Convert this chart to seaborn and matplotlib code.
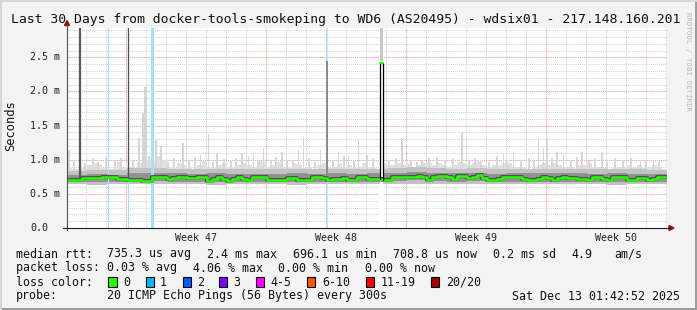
import numpy as np
import pandas as pd
import matplotlib
matplotlib.use("Agg")
import matplotlib.pyplot as plt
from matplotlib.patches import Rectangle, Polygon
from matplotlib.lines import Line2D
import seaborn as sns

# ---------------- data ----------------
STEP_DAYS = 0.25          # one value every 6 hours, 30 days
median_ms = [
    0.70, 0.70, 0.70, 0.73, 0.73, 0.73, 0.73, 0.74, 0.74, 0.74, 0.72, 0.72, 0.70, 0.70, 0.70, 0.69, 0.69, 0.74, 0.74, 0.74,
    0.72, 0.73, 0.75, 0.74, 0.73, 0.73, 0.74, 0.75, 0.69, 0.72, 0.74, 0.72, 0.69, 0.72, 0.74, 0.72, 0.70, 0.74, 0.75, 0.74,
    0.71, 0.70, 0.71, 0.71, 0.73, 0.73, 0.70, 0.70, 0.71, 0.74, 0.74, 0.73, 0.71, 0.72, 0.72, 0.73, 0.70, 0.71, 0.74, 0.74,
    0.72, 0.72, 0.72, 0.71, 0.70, 0.74, 0.74, 0.74, 0.74, 0.75, 0.76, 0.75, 0.70, 0.75, 0.76, 0.76, 0.74, 0.72, 0.76, 0.76,
    0.73, 0.74, 0.77, 0.73, 0.71, 0.71, 0.72, 0.74, 0.75, 0.75, 0.74, 0.72, 0.71, 0.71, 0.72, 0.74, 0.73, 0.70, 0.73, 0.74,
    0.73, 0.73, 0.72, 0.72, 0.71, 0.75, 0.75, 0.72, 0.71, 0.74, 0.74, 0.74, 0.70, 0.71, 0.73, 0.73, 0.71, 0.72, 0.74, 0.74,
]
smoke_hi_ms = [
    0.88, 0.86, 0.86, 0.90, 0.92, 0.95, 0.92, 0.88, 0.86, 0.86, 0.96, 0.90, 0.90, 0.85, 0.95, 1.05, 1.00, 0.98, 1.05, 1.00,
    0.90, 0.88, 0.95, 0.92, 0.88, 0.86, 0.92, 0.98, 0.90, 0.88, 0.93, 0.95, 0.90, 0.88, 0.92, 0.95, 0.92, 0.90, 0.98, 0.96,
    0.90, 0.92, 0.96, 0.90, 0.88, 0.95, 0.92, 0.88, 0.90, 0.86, 0.92, 0.95, 0.88, 0.90, 0.94, 0.90, 0.92, 0.88, 0.90, 0.95,
    0.90, 0.88, 0.85, 0.95, 0.92, 0.92, 0.95, 0.93, 0.95, 0.90, 0.92, 0.95, 0.95, 0.92, 0.95, 0.93, 0.90, 0.92, 0.96, 0.95,
    0.92, 0.95, 0.98, 0.92, 0.90, 0.92, 0.93, 0.95, 0.95, 0.90, 0.90, 0.88, 0.86, 0.90, 0.93, 0.95, 0.92, 0.95, 0.92, 0.90,
    0.90, 0.88, 0.92, 0.93, 0.95, 0.88, 0.90, 0.88, 0.86, 0.88, 0.90, 0.88, 0.92, 0.90, 0.92, 0.88, 0.90, 0.92, 0.90, 0.86,
]
# daily smoke percentiles
smoke_lo_daily = [0.64, 0.63, 0.64, 0.64, 0.65, 0.64, 0.64, 0.63, 0.64, 0.64, 0.64, 0.63, 0.64, 0.64, 0.64,
                  0.64, 0.65, 0.65, 0.65, 0.64, 0.65, 0.64, 0.64, 0.64, 0.64, 0.64, 0.64, 0.63, 0.64, 0.64]
smoke_q25_daily = [0.67, 0.68, 0.67, 0.68, 0.69, 0.68, 0.68, 0.67, 0.68, 0.68, 0.67, 0.68, 0.68, 0.68, 0.68,
                   0.68, 0.69, 0.70, 0.69, 0.68, 0.69, 0.68, 0.68, 0.68, 0.68, 0.68, 0.68, 0.67, 0.68, 0.68]
smoke_q75_daily = [0.78, 0.79, 0.78, 0.80, 0.81, 0.80, 0.79, 0.80, 0.79, 0.79, 0.79, 0.80, 0.79, 0.80, 0.79,
                   0.80, 0.81, 0.82, 0.81, 0.80, 0.81, 0.79, 0.80, 0.80, 0.80, 0.80, 0.79, 0.80, 0.79, 0.79]
smoke_q90_daily = [0.84, 0.85, 0.85, 0.88, 0.88, 0.87, 0.86, 0.87, 0.86, 0.86, 0.86, 0.87, 0.86, 0.87, 0.86,
                   0.87, 0.88, 0.89, 0.88, 0.87, 0.88, 0.86, 0.87, 0.87, 0.87, 0.86, 0.86, 0.86, 0.86, 0.85]
# isolated high pings (max of smoke)
spike_day = [0.1, 3.6, 3.8, 3.9, 3.97, 4.45, 4.7, 5.8, 6.67, 7.08, 7.5, 8.75, 9.08, 9.33, 9.83, 10.75, 11.0,
             11.58, 11.83, 12.67, 13.58, 14.08, 14.58, 15.0, 16.75, 17.75, 19.75, 20.67, 21.83, 22.33, 23.58,
             23.83, 24.0, 24.5, 24.83, 25.75, 26.75, 28.67, 29.33]
spike_ms = [1.15, 1.32, 1.69, 2.07, 2.07, 1.29, 1.20, 1.24, 1.07, 1.37, 1.10, 1.10, 1.05, 1.10, 1.17, 1.12, 1.00,
            1.15, 1.34, 1.15, 1.12, 1.07, 1.29, 1.07, 1.32, 0.98, 1.41, 1.00, 1.10, 1.10, 1.32,
            1.17, 1.32, 1.12, 1.07, 1.12, 1.12, 1.00, 0.98]
# smaller high pings above the smoke body
minor_spike_day = [0.35, 0.9, 1.3, 1.55, 1.95, 2.4, 2.7, 3.3, 4.1, 5.05, 5.35, 6.1, 6.4, 7.3, 7.85, 8.2, 8.45,
                   9.6, 10.2, 10.45, 11.3, 12.1, 12.4, 13.3, 13.85, 14.35, 15.3, 16.1, 16.45, 17.2, 17.5, 18.1,
                   18.5, 18.9, 19.3, 20.1, 20.4, 21.1, 21.5, 22.0, 22.7, 23.1, 23.35, 24.25, 25.2, 25.5, 26.1,
                   26.4, 27.0, 27.4, 27.8, 28.2, 28.95, 29.6]
minor_spike_ms = [0.98, 0.95, 1.02, 0.97, 1.04, 0.99, 1.03, 1.00, 1.05, 0.97, 1.02, 0.99, 1.04, 0.96, 1.01, 0.98,
                  1.03, 0.97, 1.00, 1.04, 0.98, 1.02, 0.97, 1.00, 1.05, 0.98, 1.01, 0.99, 1.03, 1.00, 0.97, 1.02,
                  1.04, 0.99, 1.01, 0.98, 1.03, 0.97, 1.05, 1.00, 0.99, 1.03, 0.98, 1.02, 0.99, 1.04, 0.98, 1.01,
                  0.97, 1.03, 0.99, 1.02, 0.98, 0.96]
loss_day = [2.05, 3.05, 4.25, 13.0]            # intervals with 1/20 packet loss
streak_day = [0.65, 3.05, 13.0]                 # dark smoke streaks reaching high
streak_top_ms = [2.95, 2.95, 2.45]
outlier_day = [15.67, 15.80]                    # one median sample at 2.42 ms
outlier_ms = 2.42

first_midnight = 0.928                          # days after Nov 13 01:42:52
week_start_day = [2.928, 9.928, 16.928, 23.928]
week_labels = ["Week 47", "Week 48", "Week 49", "Week 50"]
y_ticks_ms = [0.0, 0.5, 1.0, 1.5, 2.0, 2.5]
y_tick_labels = ["0.0", "0.5 m", "1.0 m", "1.5 m", "2.0 m", "2.5 m"]
loss_labels = ["0", "1", "2", "3", "4-5", "6-10", "11-19", "20/20"]
loss_colors = ["#26ff00", "#00b8ff", "#0059ff", "#7e00ff", "#ff00ff", "#ff5500", "#ff0000", "#a10000"]

# ---------------- figure ----------------
sns.set_theme(style="white")
plt.rcParams["font.family"] = ["DejaVu Sans Mono", "DejaVu Sans"]

W, H = 697, 310
fig = plt.figure(figsize=(W / 100, H / 100), dpi=100, facecolor="#f3f3f3")
def fx(x): return x / W
def fy(y): return 1 - y / H

ax = fig.add_axes([fx(67), fy(228), 600 / W, 200 / H])
ax.set_facecolor("white")
XMAX, YMAX = 30.0, 2.93
ax.set_xlim(0, XMAX)
ax.set_ylim(0, YMAX)
for s in ax.spines.values():
    s.set_visible(False)
ax.set_xticks([]); ax.set_yticks([])

# grid
minor_c, major_c = "#d4d4d4", "#f4a8a8"
dot = (0, (1, 1))
for k in range(30):
    d = first_midnight + k
    if d < XMAX:
        ax.axvline(d, color=minor_c, lw=0.75, ls=dot, zorder=0.5)
for v in np.arange(0.1, YMAX, 0.1):
    ax.axhline(v, color=minor_c, lw=0.75, ls=dot, zorder=0.5)
for d in week_start_day:
    ax.axvline(d, color=major_c, lw=0.75, ls=dot, zorder=0.6)
for v in y_ticks_ms[1:]:
    ax.axhline(v, color=major_c, lw=0.75, ls=dot, zorder=0.6)

# smoke
n = len(median_ms)
days = np.arange(n) * STEP_DAYS
xs = np.append(days, XMAX)
def stepped(a):
    a = np.asarray(a, dtype=float)
    return np.append(a, a[-1])
per_day = int(round(1 / STEP_DAYS))
lo = np.repeat(smoke_lo_daily, per_day)
q25 = np.repeat(smoke_q25_daily, per_day)
q75 = np.repeat(smoke_q75_daily, per_day)
q90 = np.repeat(smoke_q90_daily, per_day)
hi = np.asarray(smoke_hi_ms)
med = np.asarray(median_ms)

ax.fill_between(xs, stepped(lo), stepped(hi), step="post", color="#e0e0e0", lw=0, zorder=2)
ax.bar(minor_spike_day, np.asarray(minor_spike_ms) - 0.64, bottom=0.64, width=0.06, color="#d8d8d8", lw=0, zorder=2)
ax.bar(spike_day, np.asarray(spike_ms) - 0.64, bottom=0.64, width=0.075, color="#d6d6d6", lw=0, zorder=2)
ax.fill_between(xs, stepped(lo), stepped(q90), step="post", color="#c2c2c2", lw=0, zorder=2.1)
ax.fill_between(xs, stepped(q25), stepped(q75), step="post", color="#929292", lw=0, zorder=2.2)

# loss events (full height)
loss_w = [0.8, 0.8, 2.2, 1.1]
for d, w in zip(loss_day, loss_w):
    ax.axvline(d, color="#a6e2f6", lw=w, zorder=3)

# dark streaks
streak_c = ["#5a5a5a", "#505050", "#8a8a8a"]
streak_w = [1.6, 0.9, 1.4]
for d, top, c, w in zip(streak_day, streak_top_ms, streak_c, streak_w):
    base = med[min(int(d / STEP_DAYS), n - 1)]
    ax.plot([d, d], [base, top], color=c, lw=w, zorder=3.5, solid_capstyle="butt")

# median outlier sample
o0, o1 = outlier_day
ax.axvspan(o0, o1, ymin=0, ymax=outlier_ms / YMAX, color="white", lw=0, zorder=3.6)
ax.axvspan(o0, o1, ymin=(outlier_ms + 0.03) / YMAX, ymax=1, color="#c8c8c8", lw=0, zorder=3.6)

# median line
med_df = pd.DataFrame({"day": xs, "median": stepped(med)})
sns.lineplot(data=med_df, x="day", y="median", ax=ax, color="#505050", lw=2.9,
             drawstyle="steps-post", zorder=4, legend=False)
sns.lineplot(data=med_df, x="day", y="median", ax=ax, color="#26ff00", lw=1.8,
             drawstyle="steps-post", zorder=5, legend=False)
b0 = med[int(o0 / STEP_DAYS)]
b1 = med[int(o1 / STEP_DAYS)]
ax.plot([o0, o0, o1, o1], [b0, outlier_ms, outlier_ms, b1], color="black", lw=0.9, zorder=5.5)
ax.plot([o0, o1], [outlier_ms, outlier_ms], color="#26ff00", lw=1.5, zorder=5.6)
ax.set_xlabel(""); ax.set_ylabel("")

# y tick labels
ytr = ax.get_yaxis_transform()
for v, lab in zip(y_ticks_ms, y_tick_labels):
    ax.text(-37 / 600, v, lab, transform=ytr, ha="left", va="center",
            fontsize=7.2, color="#222222", clip_on=False)
# x labels
xtr = ax.get_xaxis_transform()
for d, lab in zip(week_start_day, week_labels):
    ax.text(d + 3.5, -10 / 200, lab, transform=xtr, ha="center", va="center",
            fontsize=7.2, color="#222222", clip_on=False)

# axis lines + arrows
fig.add_artist(Line2D([fx(67), fx(67)], [fy(230), fy(24)], color="#505050", lw=0.8))
fig.add_artist(Line2D([fx(63), fx(670)], [fy(228), fy(228)], color="#202020", lw=0.8))
fig.add_artist(Polygon([[fx(64.5), fy(25.5)], [fx(69.5), fy(25.5)], [fx(67), fy(20.5)]],
                       closed=True, color="#8b1010", transform=fig.transFigure))
fig.add_artist(Polygon([[fx(669), fy(225.5)], [fx(669), fy(230.5)], [fx(674), fy(228)]],
                       closed=True, color="#8b1010", transform=fig.transFigure))

# texts
fig.text(fx(345.5), fy(19), "Last 30 Days from docker-tools-smokeping to WD6 (AS20495) - wdsix01 - 217.148.160.201",
         ha="center", va="center", fontsize=9.45, color="#111111")
fig.text(fx(11), fy(126), "Seconds", rotation=90, ha="center", va="center", fontsize=8.7, color="#111111")
fig.text(fx(688), fy(62), "RRDTOOL / TOBI OETIKER", rotation=270, ha="center", va="center",
         fontsize=5.3, color="#b8b8b8")

LF = 8.4
def ltext(x, y, s):
    fig.text(fx(x), fy(y), s, ha="left", va="center", fontsize=LF, color="#111111")

row1 = [(16, "median rtt:"), (107, "735.3 us avg"), (207, "2.4 ms max"), (292.7, "696.1 us min"),
        (393.3, "708.8 us now"), (493.3, "0.2 ms sd"), (571.7, "4.9"), (614.3, "am/s")]
for x, s in row1:
    ltext(x, 254, s)
row2 = [(16, "packet loss:"), (107, "0.03 % avg"), (192.7, "4.06 % max"), (278.3, "0.00 % min"),
        (365, "0.00 % now")]
for x, s in row2:
    ltext(x, 268, s)
ltext(16, 282, "loss color:")
box_x = [108.3, 145.7, 182.7, 219, 255.7, 307, 365.7, 430.7]
lab_x = [123.3, 160, 196.7, 233.3, 270.7, 322.3, 380.7, 445.7]
for bx, lx, c, lab in zip(box_x, lab_x, loss_colors, loss_labels):
    fig.add_artist(Rectangle((fx(bx), fy(287)), 8.4 / W, 10.5 / H, transform=fig.transFigure,
                             facecolor=c, edgecolor="black", lw=0.8))
    ltext(lx, 282, lab)
ltext(16, 296, "probe:")
ltext(107, 296, "20 ICMP Echo Pings (56 Bytes) every 300s")
fig.text(fx(680), fy(296), "Sat Dec 13 01:42:52 2025", ha="right", va="center", fontsize=LF, color="#111111")

# frame shading
fig.add_artist(Rectangle((0, fy(310)), 1, 2.5 / H, transform=fig.transFigure, color="#9c9c9c", lw=0))
fig.add_artist(Rectangle((fx(694.5), 0), 2.5 / W, 1, transform=fig.transFigure, color="#9c9c9c", lw=0))
fig.add_artist(Rectangle((0, fy(1.5)), 1, 1.5 / H, transform=fig.transFigure, color="#d6d6d6", lw=0))
fig.add_artist(Rectangle((0, 0), 1.5 / W, 1, transform=fig.transFigure, color="#d6d6d6", lw=0))

fig.savefig("out.png", dpi=100, facecolor=fig.get_facecolor())
